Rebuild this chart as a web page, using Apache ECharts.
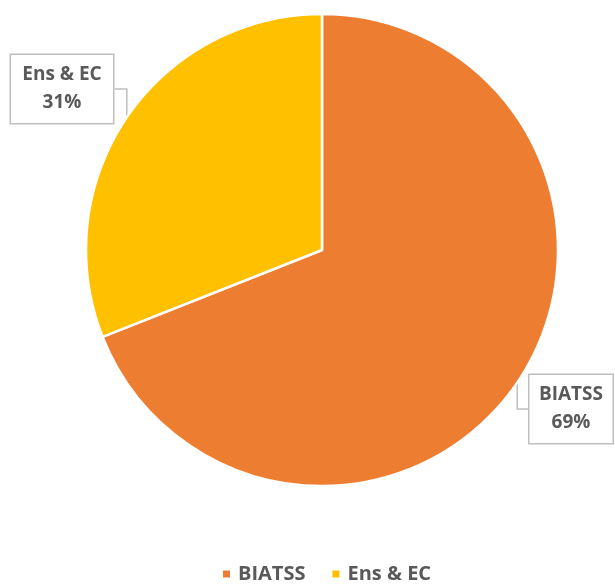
<!DOCTYPE html>
<html>
<head>
<meta charset="utf-8">
<script src="https://cdn.jsdelivr.net/npm/echarts@6/dist/echarts.min.js"></script>
<style>
  html, body { margin: 0; padding: 0; background: #fff; }
  #chart { width: 615px; height: 587px; }
</style>
</head>
<body>
<div id="chart"></div>
<script>
// Staff breakdown by category
const categories = ['BIATSS', 'Ens & EC'];
const shares = [69, 31];
const colors = ['#ED7D31', '#FFC000'];

// Callout box centres and text widths for each slice label
const labelSpots = [[571, 409], [62, 89]];
const labelWidths = [65, 84];

const chart = echarts.init(document.getElementById('chart'), null, { renderer: 'canvas' });

chart.setOption({
  animation: false,
  color: colors,
  legend: {
    bottom: -2,
    left: 216,
    icon: 'rect',
    itemWidth: 9,
    itemHeight: 9,
    itemGap: 25,
    textStyle: {
      fontFamily: 'Open Sans',
      fontWeight: 'bold',
      fontSize: 20,
      color: '#595959',
      padding: [0, 0, 0, 2]
    },
    data: categories
  },
  series: [{
    type: 'pie',
    center: [322, 250],
    radius: 236,
    startAngle: 90,
    clockwise: true,
    itemStyle: { borderColor: '#fff', borderWidth: 2.5 },
    label: {
      show: true,
      formatter: '{b}\n{d}%',
      fontFamily: 'Open Sans',
      fontWeight: 'bold',
      fontSize: 19,
      lineHeight: 28,
      color: '#595959',
      align: 'center',
      overflow: 'none',
      backgroundColor: '#fff',
      borderColor: '#bfbfbf',
      borderWidth: 1.5,
      padding: [6, 9, 6, 9]
    },
    labelLine: {
      show: true,
      lineStyle: { color: '#bfbfbf', width: 1.5 }
    },
    labelLayout: function (params) {
      const i = params.dataIndex;
      return {
        x: labelSpots[i][0],
        y: labelSpots[i][1],
        width: labelWidths[i],
        align: 'center',
        verticalAlign: 'middle'
      };
    },
    data: categories.map((name, i) => ({
      name: name,
      value: shares[i],
      label: { width: labelWidths[i] }
    }))
  }]
});
</script>
</body>
</html>
